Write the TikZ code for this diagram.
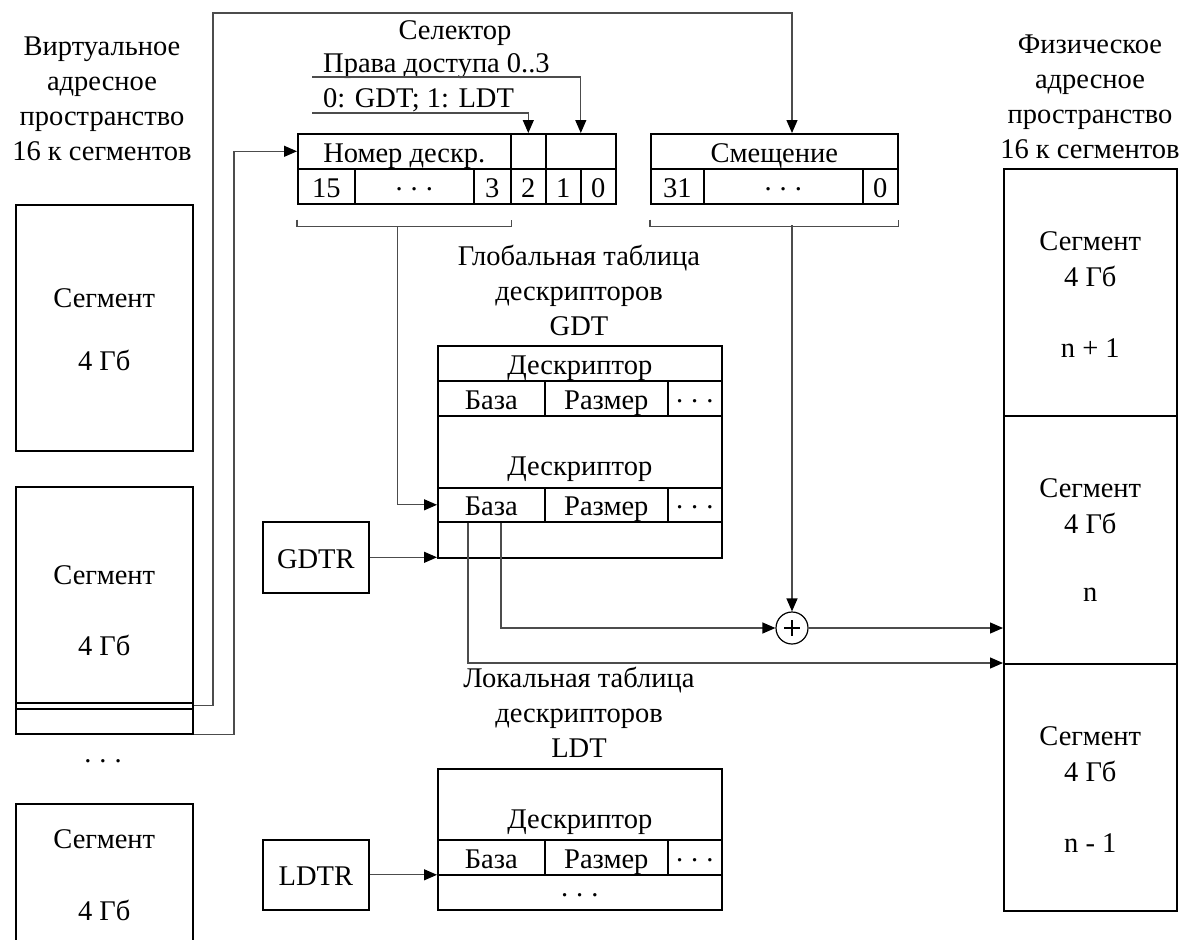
\documentclass[tikz,border=0pt]{standalone}
\usepackage{fontspec}
\setmainfont{Liberation Serif}
\usetikzlibrary{arrows.meta,calc}
\newcommand\dtxt{\fontsize{28.5}{35}\selectfont}
% centred ellipsis built from the text font's full stops
\newcommand\cdotsx{\raisebox{0.24em}{.}\kern0.28em\raisebox{0.24em}{.}\kern0.28em\raisebox{0.24em}{.}}
\tikzset{
  every node/.style={font=\dtxt},
  blk/.style={draw, line width=1.6pt, inner sep=0pt, anchor=north west,
              text height=25pt, text depth=3pt},
  strip/.style={blk, text height=0pt, text depth=0pt},
  lbl/.style={inner sep=0pt, align=center},
  wire/.style={draw=black!70, line width=1.2pt},
  arr/.style={wire, -{Triangle[length=13pt,width=11pt,color=black]}}
}
% cell: name, x, y, width, height, text
\newcommand\cellbox[6]{\node[blk, minimum width=#4pt, minimum height=#5pt] (#1) at (#2,#3) {#6};}
% empty strip: name, x, y, width, height
\newcommand\stripbox[5]{\node[strip, minimum width=#4pt, minimum height=#5pt] (#1) at (#2,#3) {};}
\begin{document}
\begin{tikzpicture}[x=1pt,y=-1pt]
\clip (0,0) rectangle (1184,940);
\fill[white] (0,0) rectangle (1184,940);

% ---------- virtual address space ----------
\node[lbl] (vhead) at (102,99) {Виртуальное\\адресное\\пространство\\16 к сегментов};
\cellbox{vs1}{15}{204}{177}{246}{}
\node (vs1a) at ($(vs1.north)+(0,94)$) {Сегмент};
\node (vs1b) at ($(vs1.north)+(0,156)$) {4 Гб};
\stripbox{vs2}{15}{486}{177}{216}
\stripbox{vs2a}{15}{702}{177}{6}
\stripbox{vs2b}{15}{708}{177}{25}
\node (vs2t) at ($(vs2.north)+(0,89)$) {Сегмент};
\node (vs2s) at ($(vs2.north)+(0,159)$) {4 Гб};
\node (vdots) at (103,764) {\cdotsx};
\cellbox{vs3}{15}{803}{177}{170}{}
\node (vs3t) at ($(vs3.north)+(0,36)$) {Сегмент};
\node (vs3s) at ($(vs3.north)+(0,107)$) {4 Гб};

% ---------- selector ----------
\node[lbl, anchor=base] (selname) at (455,39) {Селектор};
\node[lbl, anchor=base west] (rpltxt) at (323,72) {Права доступа 0..3};
\node[lbl, anchor=base west] (titxt) at (323,107) {0: GDT; 1: LDT};
\cellbox{sN}{297}{133}{213}{35}{Номер дескр.}
\cellbox{sTI}{510}{133}{35}{35}{}
\cellbox{sRPL}{545}{133}{70}{35}{}
\cellbox{s15}{297}{168}{57}{35}{15}
\cellbox{sdots}{354}{168}{119}{35}{\cdotsx}
\cellbox{s3}{473}{168}{37}{35}{3}
\cellbox{s2}{510}{168}{35}{35}{2}
\cellbox{s1}{545}{168}{35}{35}{1}
\cellbox{s0}{580}{168}{35}{35}{0}

% ---------- offset ----------
\cellbox{oT}{650}{133}{247}{35}{Смещение}
\cellbox{o31}{650}{168}{53}{35}{31}
\cellbox{odots}{703}{168}{159}{35}{\cdotsx}
\cellbox{o0}{862}{168}{35}{35}{0}

% ---------- GDT ----------
\node[lbl] (gdthead) at (579,290) {Глобальная таблица\\дескрипторов\\GDT};
\cellbox{gD1}{437}{345}{284}{35}{Дескриптор}
\cellbox{gB1}{437}{380}{107}{35}{База}
\cellbox{gR1}{544}{380}{123}{35}{Размер}
\cellbox{gE1}{667}{380}{54}{35}{\cdotsx}
\cellbox{gD2}{437}{415}{284}{72}{}
\node (gD2t) at ($(gD2.south)+(0,-19)$) {Дескриптор};
\cellbox{gB2}{437}{487}{107}{34}{База}
\cellbox{gR2}{544}{487}{123}{34}{Размер}
\cellbox{gE2}{667}{487}{54}{34}{\cdotsx}
\cellbox{gBot}{437}{521}{284}{36}{}
\cellbox{gdtr}{262}{521}{106}{71}{GDTR}

% ---------- LDT ----------
\node[lbl] (ldthead) at (579,712) {Локальная таблица\\дескрипторов\\LDT};
\cellbox{lD}{437}{768}{284}{71}{}
\node (lDt) at ($(lD.south)+(0,-18)$) {Дескриптор};
\cellbox{lB}{437}{839}{107}{35}{База}
\cellbox{lR}{544}{839}{123}{35}{Размер}
\cellbox{lE}{667}{839}{54}{35}{\cdotsx}
\cellbox{lBot}{437}{874}{284}{35}{\cdotsx}
\cellbox{ldtr}{262}{839}{106}{70}{LDTR}

% ---------- physical address space ----------
\node[lbl] (phead) at (1090,97) {Физическое\\адресное\\пространство\\16 к сегментов};
\cellbox{ps1}{1003}{168}{173}{247}{}
\cellbox{ps2}{1003}{415}{173}{248}{}
\cellbox{ps3}{1003}{663}{173}{247}{}
\foreach \s/\n in {ps1/n + 1, ps2/n, ps3/n - 1}{
  \node at ($(\s.north)+(0,73)$) {Сегмент};
  \node at ($(\s.north)+(0,108)$) {4 Гб};
  \node at ($(\s.north)+(0,180)$) {\n};
}

% ---------- adder ----------
\node[circle, draw, line width=1.2pt, minimum size=32pt, inner sep=0pt] (add) at (792,628) {};
\draw[line width=1.2pt] ($(add.center)+(-8,0)$) -- ($(add.center)+(8,0)$)
                        ($(add.center)+(0,-8)$) -- ($(add.center)+(0,8)$);

% ---------- brackets ----------
\coordinate (selbr) at ($(s15.south west)!0.47!(s3.south east)+(0,22)$);
\draw[wire] ($(s15.south west)+(0,15)$) -- ($(s15.south west)+(0,22)$)
            -- ($(s3.south east)+(0,22)$) -- ($(s3.south east)+(0,15)$);
\coordinate (offbr) at (792,225);
\draw[wire] ($(o31.south west)+(0,15)$) -- ($(o31.south west)+(0,22)$)
            -- ($(o0.south east)+(0,22)$) -- ($(o0.south east)+(0,15)$);

% ---------- connectors ----------
\coordinate (topL) at (213,13);
\coordinate (topR) at (792,13);
\draw[arr] (vs2a.east) -| (topL) -- (topR) -- (topR |- oT.north);
\coordinate (busB) at (234,149);
\draw[arr] (vs2b.south east) -| (busB |- sN.west) -- (sN.west);
\coordinate (rplL) at (312,77);
\draw[arr] (rplL) -| (sRPL.north);
\coordinate (tiL) at (312,113);
\draw[arr] (tiL) -| (sTI.north);
\draw[arr] (selbr) |- (gB2.west);
\draw[arr] (offbr) -- (add.north);
\draw[arr] (gdtr.east) -- (gdtr.east -| gBot.west);
\draw[arr] (ldtr.east) -- (ldtr.east -| lBot.west);
\coordinate (bLo) at ($(gB2.south west)+(31,0)$);
\coordinate (bHi) at ($(gB2.south west)+(64,0)$);
\draw[arr] (bHi) |- (add.west);
\draw[arr] (add.east) -- (add.east -| ps2.west);
\draw[arr] (bLo) |- (ps3.north west);
\end{tikzpicture}
\end{document}
